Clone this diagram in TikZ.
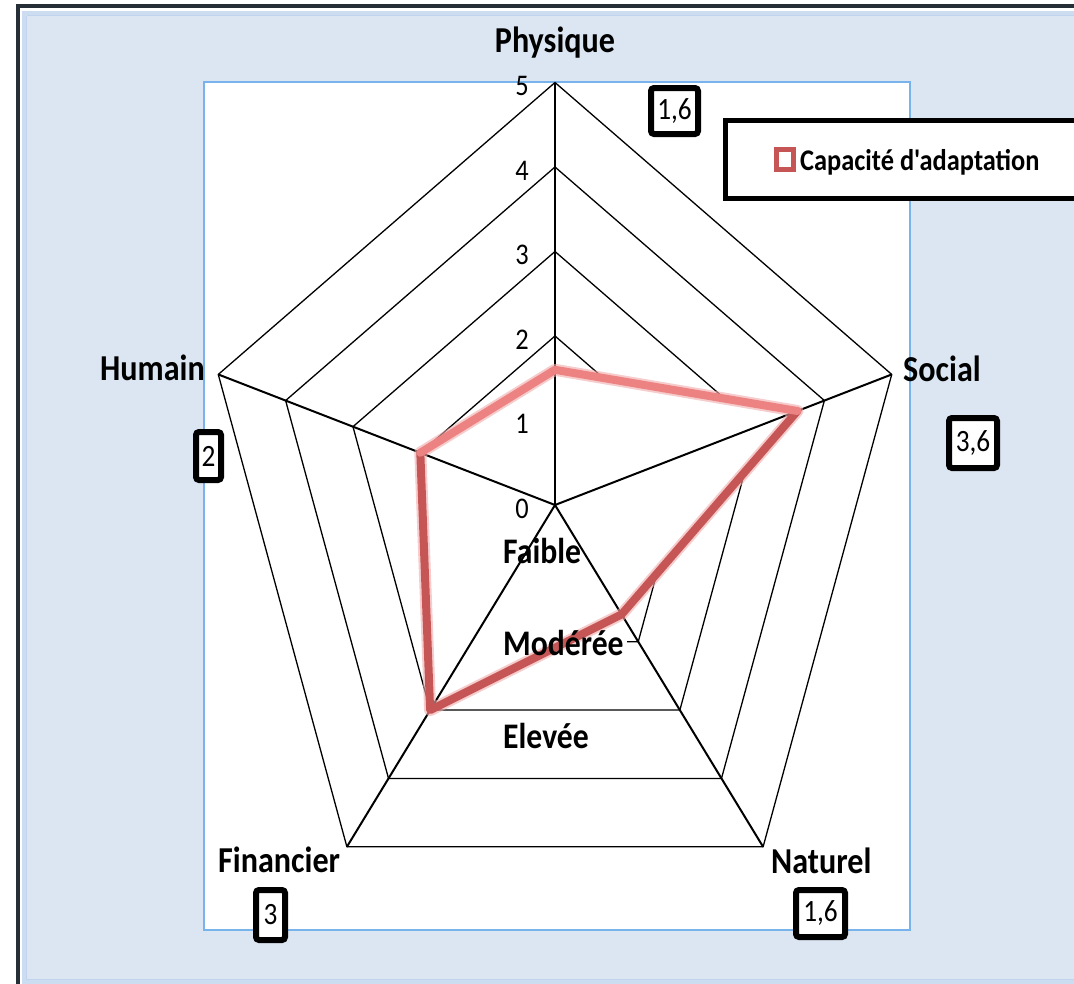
\documentclass[tikz,border=0pt]{standalone}
\usepackage{fontspec}
\usepackage{graphicx}
\newfontfamily\carl{Carlito}
\newcommand\hsq[1]{\scalebox{0.88}[1]{#1}}
\definecolor{frameDark}{RGB}{38,46,56}
\definecolor{stripe}{RGB}{204,220,241}
\definecolor{bgblue}{RGB}{220,230,242}
\definecolor{innerline}{RGB}{192,212,238}
\definecolor{plotborder}{RGB}{120,180,235}
\definecolor{redLight}{RGB}{236,130,130}
\definecolor{redDark}{RGB}{198,86,86}
\definecolor{redEdge}{RGB}{240,170,170}
\begin{document}
\begin{tikzpicture}[x=1pt,y=-1pt,
  ring/.style={line width=1.3pt, black},
  axisline/.style={line width=2pt, black},
  cat/.style={inner sep=0pt, font=\carl\bfseries\fontsize{36.5}{36.5}\selectfont},
  zone/.style={inner sep=0pt, font=\carl\bfseries\fontsize{36}{36}\selectfont},
  tick/.style={inner sep=0pt, font=\carl\fontsize{30}{30}\selectfont},
  legtext/.style={inner sep=0pt, font=\carl\bfseries\fontsize{30}{30}\selectfont},
  valbox/.style={draw, line width=6pt, rounded corners=3pt, fill=white, inner sep=0pt,
    font=\carl\fontsize{31}{31}\selectfont},
  redsoft/.style={line width=12pt, redEdge, opacity=0.6, line cap=round, line join=round},
  redlt/.style={line width=8pt, redLight, line cap=round, line join=round},
  reddk/.style={line width=8pt, redDark, line cap=round, line join=round}]
\useasboundingbox (0,0) rectangle (1074,983);
\fill[white] (0,0) rectangle (1074,983);
% outer frame
\draw[frameDark, line width=4pt] (18,1000) -- (18,6) -- (1100,6);
\fill[stripe] (21.5,10.5) rectangle (1100,1000);
\fill[bgblue] (26,15) rectangle (1100,980);
\draw[innerline, line width=1pt] (26.5,15.5) -- (1100,15.5);
\draw[innerline, line width=1pt] (26.5,15.5) -- (26.5,979.5) -- (1100,979.5);
% plot area
\draw[plotborder, fill=white, line width=1.3pt] (204,82) rectangle (910,930);
% coordinates
\coordinate (O) at (555,505);
\foreach \a/\n in {90/P,18/S,-54/N,-126/F,162/H}{
  \foreach \r in {1,...,5}{
    \coordinate (\n\r) at ({555+70.81*\r*cos(\a)},{505-84.5*\r*sin(\a)});
  }
}
\coordinate (dP) at ({555+70.81*1.6*cos(90)},{505-84.5*1.6*sin(90)});
\coordinate (dS) at ({555+70.81*3.6*cos(18)},{505-84.5*3.6*sin(18)});
\coordinate (dN) at ({555+70.81*1.6*cos(-54)},{505-84.5*1.6*sin(-54)});
\coordinate (dF) at ({555+70.81*3*cos(-126)},{505-84.5*3*sin(-126)});
\coordinate (dH) at ({555+70.81*2*cos(162)},{505-84.5*2*sin(162)});
% rings
\foreach \r in {1,...,5}{
  \draw[ring] (P\r) -- (S\r) -- (N\r) -- (F\r) -- (H\r) -- cycle;
}
% data area
\fill[white] (dP) -- (dS) -- (dN) -- (dF) -- (dH) -- cycle;
% axes
\foreach \n in {P,S,N,F,H}{
  \draw[axisline] (O) -- (\n5);
}
% white background behind Moderee
\fill[white] (503,631) rectangle (627,662);
% data line
\draw[redsoft] (dP) -- (dS) -- (dN) -- (dF) -- (dH) -- cycle;
\draw[reddk] (dS) -- (dN) -- (dF) -- (dH);
\draw[redlt] (dH) -- (dP) -- (dS);
% tick labels
\foreach \k in {0,...,5}{
  \node[tick, anchor=base] (t\k) at (522,{505-84.5*\k+13}) {\hsq{\k}};
}
% zone labels
\node[zone, anchor=base west] (zF) at (503,563) {\hsq{Faible}};
\node[zone, anchor=base west] (zM) at (503,655) {\hsq{Modérée}};
\node[zone, anchor=base west] (zE) at (503,748) {\hsq{Elevée}};
% category labels
\node[cat, anchor=base] (cP) at (555,52) {\hsq{Physique}};
\node[cat, anchor=base east] (cH) at (205,380) {\hsq{Humain}};
\node[cat, anchor=base west] (cS) at (903,381) {\hsq{Social}};
\node[cat, anchor=base west] (cF) at (218,872) {\hsq{Financier}};
\node[cat, anchor=base west] (cN) at (771,873) {\hsq{Naturel}};
% value boxes
\node[valbox, minimum width=47pt, minimum height=46pt] (vP) at (674.5,111) {\hsq{1,6}};
\node[valbox, minimum width=48pt, minimum height=50pt] (vS) at (973,443) {\hsq{3,6}};
\node[valbox, minimum width=25pt, minimum height=48pt] (vH) at (208.5,456) {\hsq{2}};
\node[valbox, minimum width=29pt, minimum height=50pt] (vF) at (270.5,915) {\hsq{3}};
\node[valbox, minimum width=49pt, minimum height=47pt] (vN) at (820.5,913.5) {\hsq{1,6}};
% legend
\draw[line width=5pt, fill=white] (725.5,120.5) rectangle (1100,198.5);
\draw[redDark, line width=5pt, fill=white] (776,149) rectangle (793,169);
\node[legtext, anchor=base west] (leg) at (800,170) {\hsq{Capacité d'adaptation}};
\end{tikzpicture}
\end{document}
